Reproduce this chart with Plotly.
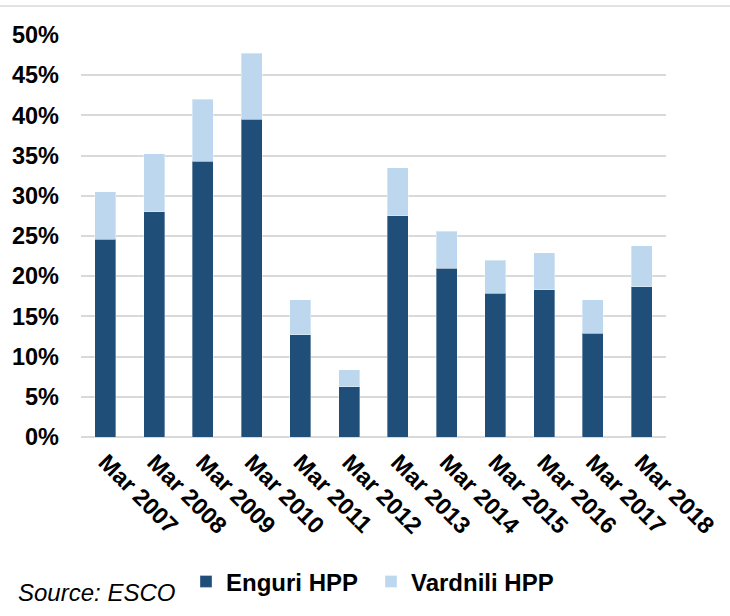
import plotly.graph_objects as go

categories = ["Mar 2007", "Mar 2008", "Mar 2009", "Mar 2010", "Mar 2011", "Mar 2012",
              "Mar 2013", "Mar 2014", "Mar 2015", "Mar 2016", "Mar 2017", "Mar 2018"]
enguri = [24.6, 28.0, 34.3, 39.5, 12.7, 6.25, 27.5, 21.0, 17.9, 18.3, 12.9, 18.7]
vardnili = [5.9, 7.2, 7.7, 8.2, 4.35, 2.1, 6.0, 4.6, 4.1, 4.6, 4.2, 5.1]
y_ticks = [0, 5, 10, 15, 20, 25, 30, 35, 40, 45, 50]
y_ticklabels = [f"{v}%" for v in y_ticks]

DARK = "#1F4E79"
LIGHT = "#BDD7EE"
FONT = "Liberation Sans, Arial, sans-serif"
FS = 23.5
LFS = 24

W, H = 730, 616
ML, MR, MT, MB = 81, 64, 34.5, 179
PW = W - ML - MR
PH = H - MT - MB

fig = go.Figure()
fig.add_trace(go.Bar(x=categories, y=enguri, name="Enguri HPP",
                     marker=dict(color=DARK, line=dict(color="rgba(255,255,255,0.35)", width=1))))
fig.add_trace(go.Bar(x=categories, y=vardnili, name="Vardnili HPP",
                     marker=dict(color=LIGHT, line=dict(color="rgba(255,255,255,0.35)", width=1))))

def px_x(px):
    return (px - ML) / PW

def px_y(py):
    return (H - MB - py) / PH

fig.update_layout(
    width=W, height=H,
    margin=dict(l=ML, r=MR, t=MT, b=MB, pad=0),
    barmode="stack",
    bargap=0.57,
    plot_bgcolor="white", paper_bgcolor="white",
    font=dict(family=FONT, color="black"),
    showlegend=True,
    legend=dict(orientation="h", x=px_x(186), y=px_y(582), xanchor="left", yanchor="middle",
                font=dict(size=LFS, family=FONT, color="black", weight="bold"),
                itemwidth=30, entrywidth=140, traceorder="normal", bgcolor="rgba(0,0,0,0)"),
    xaxis=dict(tickangle=45, tickfont=dict(size=FS, family=FONT, color="black", weight="bold"),
               showgrid=False, showline=False, ticks="", ticklabelstandoff=6),
    yaxis=dict(range=[0, 50], tickvals=y_ticks, ticktext=y_ticklabels,
               tickfont=dict(size=FS, family=FONT, color="black", weight="bold"),
               showgrid=True, gridcolor="#D9D9D9", gridwidth=1.5,
               zeroline=True, zerolinecolor="#D9D9D9", zerolinewidth=1.5,
               showline=False, ticks="", ticklabelstandoff=21),
    shapes=[dict(type="line", xref="paper", yref="paper",
                 x0=px_x(0), x1=px_x(W), y0=px_y(5.5), y1=px_y(5.5),
                 line=dict(color="#D9D9D9", width=1.5))],
    annotations=[dict(text="<i>Source: ESCO</i>", xref="paper", yref="paper",
                      x=px_x(16), y=px_y(593), xanchor="left", yanchor="middle",
                      showarrow=False, font=dict(size=LFS, family=FONT, color="black"))],
)

fig.write_html("out.html")
